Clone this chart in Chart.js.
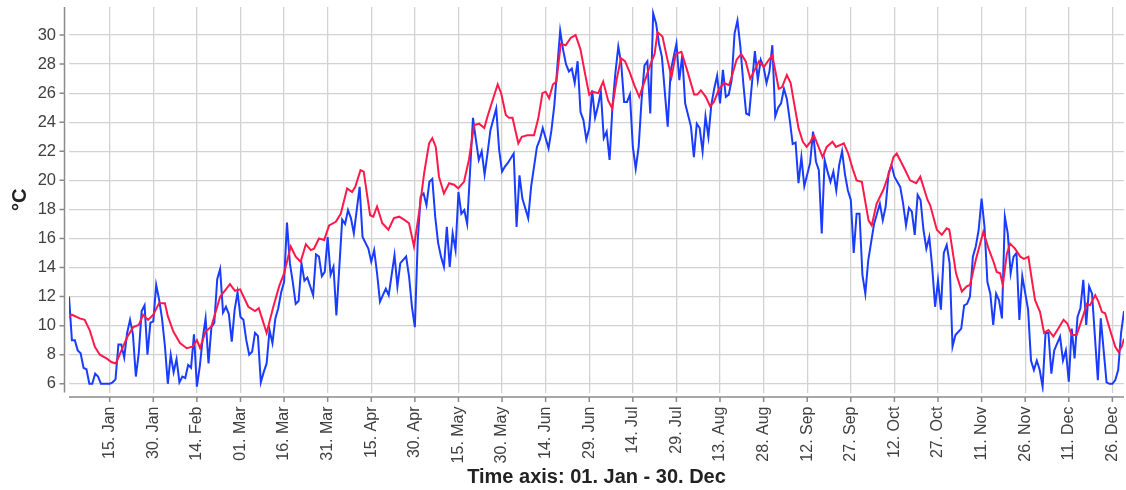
<!DOCTYPE html>
<html>
<head>
<meta charset="utf-8">
<script src="https://cdn.jsdelivr.net/npm/chart.js@4.4.1/dist/chart.umd.min.js"></script>
<style>
  body { margin: 0; background: #fff; }
  canvas { display: block; }
</style>
</head>
<body>
<canvas id="tempChart" width="1126" height="490"></canvas>
<script>
// daily temperature (day of year, 0 = 01. Jan)
const dailyDays = [
  0, 1, 2, 3, 4, 5, 6, 7, 8, 9, 10, 11, 12, 13, 14, 15, 16, 17, 18, 19,
  20, 21, 22, 23, 24, 25, 26, 27, 28, 29, 30, 31, 32, 33, 34, 35, 36, 37, 38, 39,
  40, 41, 42, 43, 44, 45, 46, 47, 48, 49, 50, 51, 52, 53, 54, 55, 56, 57, 58, 59,
  60, 61, 62, 63, 64, 65, 66, 67, 68, 69, 70, 71, 72, 73, 74, 75, 76, 77, 78, 79,
  80, 81, 82, 84, 85, 86, 87, 88, 89, 90, 91, 92, 94, 95, 96, 97, 98, 100, 101, 103,
  104, 105, 106, 107, 109, 110, 112, 113, 114, 116, 117, 118, 119, 120, 121, 122, 123, 124, 125, 126,
  127, 128, 129, 130, 131, 132, 133, 134, 135, 136, 137, 139, 140, 141, 142, 143, 144, 145, 147, 148,
  149, 150, 151, 153, 154, 155, 156, 158, 159, 161, 162, 163, 165, 166, 167, 169, 170, 171, 172, 173,
  174, 175, 176, 177, 178, 179, 180, 181, 182, 183, 184, 185, 186, 187, 188, 189, 190, 191, 192, 193,
  194, 195, 196, 197, 198, 199, 200, 201, 202, 203, 204, 206, 207, 209, 210, 211, 212, 214, 215, 216,
  217, 218, 219, 220, 221, 222, 223, 224, 225, 226, 227, 228, 229, 230, 231, 232, 233, 234, 235, 236,
  237, 238, 239, 240, 241, 242, 243, 244, 245, 246, 247, 248, 249, 250, 251, 252, 253, 254, 255, 256,
  257, 258, 259, 260, 261, 262, 263, 264, 265, 266, 267, 268, 269, 270, 271, 272, 273, 274, 275, 277,
  278, 279, 280, 281, 282, 283, 284, 286, 287, 288, 289, 290, 291, 292, 293, 294, 295, 296, 297, 298,
  299, 300, 301, 302, 303, 304, 305, 307, 308, 309, 310, 311, 312, 313, 314, 315, 316, 317, 318, 319,
  320, 321, 322, 323, 324, 325, 326, 327, 328, 330, 331, 332, 333, 334, 335, 336, 337, 338, 339, 341,
  342, 343, 344, 345, 346, 347, 348, 349, 350, 351, 352, 354, 355, 357, 358, 359, 360, 361, 362, 363
];
const dailyTemps = [
  12.0, 9.0, 9.0, 8.3, 8.1, 7.1, 7.0, 6.0, 6.0, 6.7, 6.5, 6.0, 6.0, 6.0, 6.0, 6.1, 6.3, 8.7, 8.7, 7.8,
  9.5, 10.4, 9.4, 6.5, 8.1, 11.0, 11.4, 8.0, 10.2, 10.3, 12.8, 11.8, 10.5, 8.6, 6.0, 8.0, 6.8, 7.7, 6.1, 6.5,
  6.4, 7.3, 7.1, 9.4, 5.8, 7.2, 9.1, 10.5, 7.4, 9.9, 10.2, 13.2, 13.9, 10.9, 11.3, 10.8, 8.9, 11.1, 12.3, 10.6,
  10.4, 9.0, 8.0, 8.2, 9.5, 9.3, 6.1, 6.8, 7.4, 9.7, 8.8, 10.5, 11.2, 12.3, 13.0, 17.1, 14.3, 13.0, 11.5, 11.7,
  14.3, 13.1, 13.3, 12.1, 14.9, 14.75, 13.4, 13.7, 16.1, 13.5, 14.05, 10.7, 17.3, 17.0, 17.95, 17.4, 16.35, 19.55, 16.1, 15.3,
  14.4, 15.2, 13.6, 11.65, 12.55, 12.1, 14.85, 12.7, 14.3, 14.75, 13.4, 11.3, 9.9, 15.9, 18.9, 19.1, 18.3, 19.9, 20.1, 17.5,
  15.7, 14.75, 14.05, 16.8, 14.05, 16.35, 15.2, 19.2, 17.7, 17.95, 17.0, 24.3, 22.8, 21.4, 22.0, 20.4, 21.85, 23.45, 24.95, 22.1,
  20.6, 20.95, 21.2, 21.85, 16.8, 20.35, 18.75, 17.4, 19.55, 22.3, 22.8, 23.6, 22.2, 23.45, 25.2, 30.3, 29.0, 28.0, 27.5, 27.7,
  26.7, 28.2, 24.7, 24.15, 22.8, 23.6, 26.2, 24.3, 25.1, 26.1, 22.9, 23.35, 21.4, 25.1, 27.4, 29.2, 28.05, 25.4, 25.4, 25.9,
  22.3, 20.8, 22.3, 25.5, 27.9, 28.2, 24.6, 31.5, 30.8, 29.4, 28.5, 23.7, 27.5, 29.4, 26.9, 28.6, 25.3, 23.7, 21.6, 23.9,
  23.6, 22.0, 24.4, 23.0, 25.2, 26.3, 27.2, 25.3, 27.6, 25.75, 25.9, 26.9, 30.1, 31.0, 29.2, 26.7, 24.6, 24.5, 26.7, 28.9,
  26.9, 28.3, 27.8, 26.7, 27.5, 29.3, 24.4, 25.0, 25.3, 26.3, 25.6, 24.15, 22.5, 22.6, 19.8, 21.6, 19.6, 20.4, 21.2, 23.35,
  21.3, 20.7, 16.35, 21.4, 20.6, 19.9, 20.6, 19.3, 21.05, 22.0, 20.4, 19.3, 18.65, 15.0, 17.7, 17.7, 13.5, 12.2, 14.5, 17.0,
  17.7, 18.4, 17.25, 18.2, 20.5, 21.05, 20.25, 19.55, 18.4, 16.9, 18.1, 17.85, 16.25, 19.0, 18.65, 16.6, 15.3, 16.1, 14.05, 11.3,
  13.1, 11.1, 15.0, 15.55, 14.3, 8.55, 9.35, 9.8, 11.4, 11.5, 12.0, 14.75, 15.45, 16.6, 18.75, 16.8, 13.0, 12.2, 10.05, 12.2,
  11.75, 10.5, 17.5, 16.35, 13.6, 14.75, 15.0, 10.4, 13.4, 11.1, 7.6, 6.95, 7.6, 6.95, 5.8, 9.5, 9.5, 6.7, 8.3, 9.25,
  7.6, 8.3, 6.15, 9.8, 7.75, 10.6, 11.2, 13.15, 10.05, 12.7, 12.2, 6.25, 10.5, 6.1, 6.0, 6.0, 6.25, 6.95, 9.5, 11.0
];

// running mean
const meanDays = [
  0, 1, 3.7, 5.4, 7.1, 8.9, 10.6, 12.9, 14.6, 16.1, 20, 22.1, 24, 25.5, 27.2, 29, 31, 33, 34, 35.9,
  38.2, 40.5, 42.5, 44, 45.1, 47, 49, 52, 55.4, 57.1, 58.9, 61.7, 64, 65.3, 68, 70.3, 72.3, 74, 76.3, 78,
  79.7, 81.5, 83.2, 84.3, 86, 87.8, 89.5, 91.8, 93.5, 95.7, 97.4, 98.5, 100.3, 101.4, 103.6, 104.7, 106, 107.8, 109.9, 111.8,
  113.6, 115.3, 117, 118.7, 120.4, 122.2, 123.9, 125, 126.2, 127.3, 129, 130.8, 132.5, 133.9, 135.9, 137.6, 139.4, 141.1, 142.9, 144,
  145.8, 147.5, 148.7, 150.3, 151.4, 152.6, 154.6, 155.8, 157.7, 160, 161.5, 162.9, 164, 165.2, 166.5, 167.7, 169.2, 170.9, 172.6, 174.3,
  176, 177.5, 179, 180, 182.1, 183.8, 185.5, 186.9, 188.4, 189.9, 191.3, 193, 194.4, 196.2, 198.2, 200.2, 201.5, 202.5, 204.2, 205.7,
  207.3, 208.8, 210.7, 212.8, 215.1, 216.2, 217.4, 219.1, 220.6, 221.9, 223.7, 225.4, 227.1, 228.2, 229.7, 231.3, 232.8, 234.4, 235.7, 237.4,
  239.1, 240.8, 242, 244.2, 245.3, 247, 248.3, 249.5, 251, 252.5, 253.8, 255.1, 256.3, 257.7, 259.3, 260.7, 262.7, 263.9, 266.6, 268.1,
  269.8, 271, 272.8, 275.1, 276.2, 277.9, 280.2, 282, 283.7, 284.8, 287.1, 289.4, 291.5, 292.9, 295.4, 296.3, 298.6, 300.3, 302, 302.9,
  305.2, 307.2, 308.9, 310, 312.1, 314.6, 316.4, 318.1, 319.2, 320.4, 321.3, 322.7, 323.8, 325.5, 327.3, 328.6, 330.1, 331.3, 332.4, 334.1,
  335.5, 337, 338.7, 340.4, 342.2, 343.5, 345, 346.7, 348.8, 350.2, 351.3, 353.1, 354.2, 355.4, 356.5, 358.2, 360, 361.1, 362.2, 363
];
const meanTemps = [
  10.6, 10.75, 10.5, 10.4, 9.7, 8.55, 8.0, 7.75, 7.5, 7.4, 9.2, 9.9, 10.05, 10.75, 10.4, 10.75, 11.55, 11.55, 10.65, 9.6,
  8.8, 8.45, 8.55, 9.0, 8.45, 9.6, 9.95, 12.0, 12.85, 12.4, 12.5, 11.3, 11.0, 11.2, 9.5, 11.3, 12.7, 13.6, 15.45, 14.75,
  14.4, 15.6, 15.2, 15.3, 16.0, 15.9, 16.9, 17.15, 17.7, 19.45, 19.2, 19.55, 20.7, 20.6, 17.6, 17.5, 18.2, 17.05, 16.6, 17.4,
  17.5, 17.3, 17.05, 15.45, 17.7, 20.5, 22.55, 22.9, 22.3, 20.25, 19.1, 19.8, 19.7, 19.45, 19.9, 21.4, 23.8, 23.9, 23.6, 24.4,
  25.55, 26.6, 26.0, 24.5, 24.3, 24.3, 22.55, 23.0, 23.1, 23.1, 24.3, 26.0, 26.1, 25.65, 26.6, 26.8, 29.4, 29.3, 29.8, 30.0,
  29.0, 27.4, 25.9, 26.1, 26.0, 26.8, 25.5, 24.95, 26.9, 28.4, 28.2, 27.4, 26.6, 25.75, 26.9, 28.05, 28.7, 30.2, 29.9, 28.5,
  27.1, 28.7, 28.85, 27.5, 25.9, 25.9, 26.2, 25.75, 25.1, 25.4, 26.3, 26.7, 26.55, 27.25, 28.3, 28.7, 28.2, 27.0, 27.5, 28.2,
  27.8, 28.3, 28.6, 26.3, 26.4, 27.25, 26.7, 25.3, 23.6, 22.65, 22.3, 22.65, 23.1, 22.4, 21.6, 22.3, 22.65, 22.3, 22.55, 21.85,
  20.7, 20.0, 19.9, 17.25, 16.9, 18.4, 19.35, 20.4, 21.6, 21.85, 20.95, 20.0, 19.8, 20.25, 18.65, 18.3, 16.6, 16.25, 16.7, 16.6,
  13.6, 12.35, 12.7, 12.8, 14.6, 16.45, 15.3, 14.4, 13.7, 13.6, 12.8, 14.95, 15.65, 15.3, 14.75, 14.6, 14.75, 13.15, 11.75, 10.95,
  9.5, 9.7, 9.25, 9.8, 10.4, 10.15, 9.35, 9.35, 10.6, 11.5, 11.4, 12.1, 11.65, 10.95, 10.85, 9.7, 8.55, 8.2, 8.55, 9.1
];

// x-axis ticks: every 15 days from 15. Jan
const tickDays = [14, 29, 44, 59, 74, 89, 104, 119, 134, 149, 164, 179,
                  194, 209, 224, 239, 254, 269, 284, 299, 314, 329, 344, 359];
const tickLabels = ['15. Jan', '30. Jan', '14. Feb', '01. Mar', '16. Mar', '31. Mar',
                    '15. Apr', '30. Apr', '15. May', '30. May', '14. Jun', '29. Jun',
                    '14. Jul', '29. Jul', '13. Aug', '28. Aug', '12. Sep', '27. Sep',
                    '12. Oct', '27. Oct', '11. Nov', '26. Nov', '11. Dec', '26. Dec'];

const toPoints = (days, temps) => days.map((d, i) => ({ x: d, y: temps[i] }));

const AXIS_GAP = 4.5;
const TICK_LEN = 5;

// axis lines sit a few px off the plot, with short outside tick marks
const offsetAxes = {
    id: 'offsetAxes',
    afterDraw(chart) {
        const { ctx, chartArea: area, scales } = chart;
        const xAxisY = area.bottom + AXIS_GAP;
        const yAxisX = area.left - AXIS_GAP;
        ctx.save();
        ctx.strokeStyle = '#8a8a8a';
        ctx.lineWidth = 1.5;
        ctx.beginPath();
        ctx.moveTo(yAxisX, area.top);
        ctx.lineTo(yAxisX, area.bottom);
        scales.y.ticks.forEach(t => {
            const py = scales.y.getPixelForValue(t.value);
            ctx.moveTo(yAxisX - TICK_LEN, py);
            ctx.lineTo(yAxisX, py);
        });
        ctx.moveTo(area.left, xAxisY);
        ctx.lineTo(area.right, xAxisY);
        scales.x.ticks.forEach(t => {
            const px = scales.x.getPixelForValue(t.value);
            ctx.moveTo(px, xAxisY);
            ctx.lineTo(px, xAxisY + TICK_LEN);
        });
        ctx.stroke();
        ctx.restore();
    }
};

const tickFont = { family: "'Liberation Sans', Arial, sans-serif", size: 16 };
const titleFont = { family: "'Liberation Sans', Arial, sans-serif", size: 20, weight: 'bold' };

new Chart(document.getElementById('tempChart'), {
    type: 'line',
    data: {
        datasets: [
            {
                label: 'Mean',
                data: toPoints(meanDays, meanTemps),
                borderColor: 'rgb(255, 25, 75)',
                borderWidth: 2,
                pointRadius: 0,
                tension: 0,
                order: 0
            },
            {
                label: 'Daily',
                data: toPoints(dailyDays, dailyTemps),
                borderColor: 'rgb(25, 60, 255)',
                borderWidth: 2,
                pointRadius: 0,
                tension: 0,
                order: 1
            }
        ]
    },
    options: {
        responsive: false,
        animation: false,
        devicePixelRatio: 1,
        layout: { padding: { top: 7, right: 2, left: 0, bottom: 0 } },
        plugins: {
            legend: { display: false },
            tooltip: { enabled: false }
        },
        scales: {
            x: {
                type: 'linear',
                min: 0,
                max: 363,
                afterBuildTicks: scale => {
                    scale.ticks = tickDays.map(v => ({ value: v }));
                },
                afterFit: scale => {
                    scale.height = 97.5;
                    scale.paddingLeft = 0;
                    scale.paddingRight = 0;
                },
                ticks: {
                    autoSkip: false,
                    minRotation: 90,
                    maxRotation: 90,
                    padding: 14,
                    color: '#404040',
                    font: tickFont,
                    callback: v => tickLabels[tickDays.indexOf(v)]
                },
                grid: { color: '#d2d2d2', lineWidth: 1.3, drawTicks: false },
                border: { display: false },
                title: {
                    display: true,
                    text: 'Time axis: 01. Jan - 30. Dec',
                    color: '#222',
                    font: titleFont,
                    padding: { top: 0, bottom: 1 }
                }
            },
            y: {
                min: 5.4,
                max: 31.93,
                afterFit: scale => {
                    scale.width = 69;
                    scale.paddingTop = 0;
                    scale.paddingBottom = 0;
                },
                ticks: {
                    stepSize: 2,
                    includeBounds: false,
                    padding: 13,
                    color: '#404040',
                    font: { family: tickFont.family, size: 16.5 }
                },
                grid: { color: '#d2d2d2', lineWidth: 1.3, drawTicks: false },
                border: { display: false },
                title: {
                    display: true,
                    text: '°C',
                    color: '#222',
                    font: titleFont,
                    padding: { top: 8, bottom: 0 }
                }
            }
        }
    },
    plugins: [offsetAxes]
});
</script>
</body>
</html>
